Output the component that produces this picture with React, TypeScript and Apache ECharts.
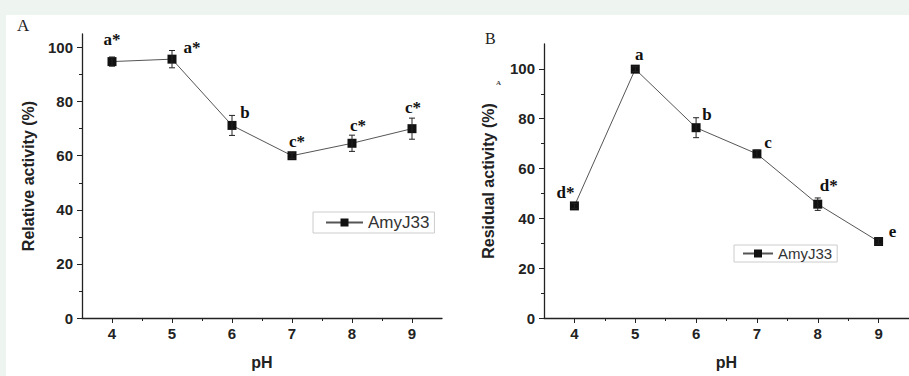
import React, { useEffect, useRef } from "react";
import * as echarts from "echarts";

const phValues = [4, 5, 6, 7, 8, 9];
const relActivity = [94.8, 95.7, 71.2, 60.0, 64.6, 70.0];
const relError = [1.7, 3.2, 3.7, 1.0, 3.0, 3.9];
const relLetters = ["a*", "a*", "b", "c*", "c*", "c*"];
const resActivity = [45.0, 99.9, 76.4, 65.9, 45.7, 30.7];
const resError = [1.0, 1.0, 4.0, 1.5, 2.5, 1.0];
const resLetters = ["d*", "a", "b", "c", "d*", "e"];
const yTicks = [0, 20, 40, 60, 80, 100];
const yMinorTicks = [10, 30, 50, 70, 90];
const xMinorTicks = [4.5, 5.5, 6.5, 7.5, 8.5];
const seriesName = "AmyJ33";

const relLabelOffsets = [[0, -22], [20, -12], [13, -13], [5, -14], [6, -18], [1, -21]];
const resLabelOffsets = [[-9, -13], [4, -15], [11, -13], [11, -11], [11, -19], [14, -10]];

const SANS = "'Liberation Sans', Arial, sans-serif";
const SERIF = "'Liberation Serif', 'Times New Roman', serif";

function makeAxes(gridIndex: number, yMax: number, yName: string, yGap: number) {
  const x = {
    type: "value", gridIndex, min: 3.5, max: 9.5, position: "bottom",
    name: "pH", nameLocation: "middle", nameGap: 36,
    nameTextStyle: { fontFamily: SANS, fontWeight: "bold", fontSize: 16, color: "#222" },
    axisLine: { show: true, lineStyle: { color: "#222", width: 1.3 } },
    axisTick: { show: true, inside: false, length: 5, customValues: phValues, lineStyle: { color: "#222" } },
    axisLabel: { show: true, customValues: phValues, margin: 8, fontFamily: SANS, fontWeight: "bold", fontSize: 15, color: "#222" },
    splitLine: { show: false },
  };
  const xMinor = {
    type: "value", gridIndex, min: 3.5, max: 9.5, position: "bottom",
    axisLine: { show: false },
    axisTick: { show: true, inside: false, length: 3, customValues: xMinorTicks, lineStyle: { color: "#222" } },
    axisLabel: { show: false },
    splitLine: { show: false },
  };
  const y = {
    type: "value", gridIndex, min: 0, max: yMax, position: "left",
    name: yName, nameLocation: "middle", nameGap: yGap,
    nameTextStyle: { fontFamily: SANS, fontWeight: "bold", fontSize: 16, color: "#222" },
    axisLine: { show: true, lineStyle: { color: "#222", width: 1.3 } },
    axisTick: { show: true, inside: false, length: 5, customValues: yTicks, lineStyle: { color: "#222" } },
    axisLabel: { show: true, customValues: yTicks, margin: 9, fontFamily: SANS, fontWeight: "bold", fontSize: 15, color: "#222" },
    splitLine: { show: false },
  };
  const yMinor = {
    type: "value", gridIndex, min: 0, max: yMax, position: "left",
    axisLine: { show: false },
    axisTick: { show: true, inside: false, length: 3, customValues: yMinorTicks, lineStyle: { color: "#222" } },
    axisLabel: { show: false },
    splitLine: { show: false },
  };
  return { x, xMinor, y, yMinor };
}

function lineSeries(values: number[], letters: string[], offsets: number[][], axisIndex: number) {
  return {
    type: "line", name: seriesName, xAxisIndex: axisIndex, yAxisIndex: axisIndex,
    symbol: "rect", symbolSize: 9,
    itemStyle: { color: "#111" },
    lineStyle: { color: "#555", width: 1 },
    z: 3,
    data: phValues.map((p, i) => ({
      value: [p, values[i]],
      label: {
        show: true, position: "inside", align: "center", verticalAlign: "middle",
        offset: offsets[i], formatter: letters[i],
        fontFamily: SERIF, fontWeight: "bold", fontSize: 17, color: "#111",
      },
    })),
  };
}

function errorSeries(values: number[], errs: number[], axisIndex: number) {
  return {
    type: "custom", name: "err" + axisIndex, xAxisIndex: axisIndex, yAxisIndex: axisIndex, z: 4,
    data: phValues.map((p, i) => [p, values[i], errs[i]]),
    renderItem: (params: any, api: any) => {
      const xv = api.value(0), yv = api.value(1), e = api.value(2);
      const top = api.coord([xv, yv + e]);
      const bot = api.coord([xv, yv - e]);
      const hw = 3;
      const style = { stroke: "#222", lineWidth: 1 };
      return {
        type: "group",
        children: [
          { type: "line", shape: { x1: top[0], y1: top[1], x2: bot[0], y2: bot[1] }, style },
          { type: "line", shape: { x1: top[0] - hw, y1: top[1], x2: top[0] + hw, y2: top[1] }, style },
          { type: "line", shape: { x1: bot[0] - hw, y1: bot[1], x2: bot[0] + hw, y2: bot[1] }, style },
        ],
      };
    },
  };
}

export default function App() {
  const ref = useRef<HTMLDivElement>(null);
  useEffect(() => {
    if (!ref.current) return;
    const chart = echarts.init(ref.current, null, { renderer: "svg" });
    const a = makeAxes(0, 105, "Relative activity (%)", 46);
    const b = makeAxes(1, 110, "Residual activity (%)", 48);
    const legendBase = {
      data: [seriesName], orient: "horizontal", borderColor: "#ccc", borderWidth: 1,
      backgroundColor: "#fff", borderRadius: 0, selectedMode: false,
    };
    chart.setOption({
      animation: false,
      grid: [
        { left: 82, top: 34, width: 360, height: 284 },
        { left: 544, top: 44, width: 365, height: 274 },
      ],
      xAxis: [a.x, b.x, a.xMinor, b.xMinor],
      yAxis: [a.y, b.y, a.yMinor, b.yMinor],
      legend: [
        { ...legendBase, left: 313, top: 212, padding: [2, 5, 2, 12], itemWidth: 37, itemHeight: 10,
          textStyle: { fontFamily: SANS, fontSize: 17, color: "#333" } },
        { ...legendBase, left: 734, top: 245, padding: [1, 5, 1, 8], itemWidth: 30, itemHeight: 10,
          textStyle: { fontFamily: SANS, fontSize: 15, color: "#333" } },
      ],
      series: [
        lineSeries(relActivity, relLetters, relLabelOffsets, 0),
        errorSeries(relActivity, relError, 0),
        lineSeries(resActivity, resLetters, resLabelOffsets, 1),
        errorSeries(resActivity, resError, 1),
      ],
      graphic: [
        { type: "text", left: 17, top: 17, style: { text: "A", font: `17px ${SERIF}`, fill: "#222" } },
        { type: "text", left: 485, top: 30, style: { text: "B", font: `16px ${SERIF}`, fill: "#222" } },
        { type: "text", left: 496, top: 79, style: { text: "A", font: `bold 7px ${SERIF}`, fill: "#444" } },
      ],
    });
    return () => chart.dispose();
  }, []);
  return (
    <div style={{ position: "fixed", left: 0, top: 0, width: 909, height: 376, background: "#eef5f1", overflow: "hidden" }}>
      <div style={{ position: "absolute", left: 6, top: 15, right: 0, bottom: 0, background: "#fff" }} />
      <div ref={ref} style={{ position: "absolute", left: 0, top: 0, width: 909, height: 376 }} />
    </div>
  );
}
